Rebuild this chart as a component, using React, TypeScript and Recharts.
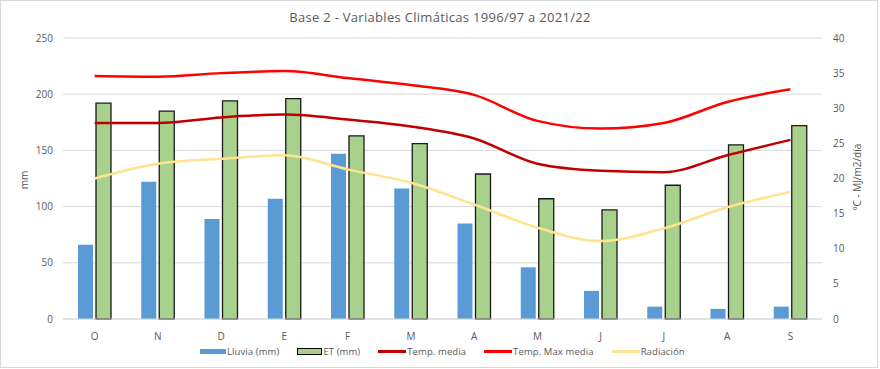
import {
  Bar,
  CartesianGrid,
  ComposedChart,
  Line,
  XAxis,
  YAxis,
} from "recharts";

const months = ["O", "N", "D", "E", "F", "M", "A", "M", "J", "J", "A", "S"];
const lluvia = [66, 122, 89, 107, 147, 116, 85, 46, 25, 11, 9, 11];
const et = [192, 185, 194, 196, 163, 156, 129, 107, 97, 119, 155, 172];
const tempMedia = [27.9, 27.9, 28.7, 29.1, 28.4, 27.4, 25.7, 22.1, 21.1, 20.9, 23.3, 25.5];
const tempMax = [34.6, 34.5, 35.0, 35.3, 34.3, 33.3, 31.9, 28.2, 27.1, 27.9, 30.9, 32.7];
const radiacion = [20.0, 22.1, 22.8, 23.3, 21.3, 19.4, 16.3, 13.0, 11.1, 12.9, 15.9, 18.1];

const leftTicks = [0, 50, 100, 150, 200, 250];
const rightTicks = [0, 5, 10, 15, 20, 25, 30, 35, 40];

const data = months.map((m, i) => ({
  name: m,
  lluvia: lluvia[i],
  et: et[i],
  tempMedia: tempMedia[i],
  tempMax: tempMax[i],
  radiacion: radiacion[i],
}));

const gray = "#595959";
const font = "'Open Sans', sans-serif";

function LegendItem({ kind, color, label }: { kind: "bar" | "barOutline" | "line"; color: string; label: string }) {
  let swatch;
  if (kind === "bar") {
    swatch = <div style={{ width: 26, height: 5, background: color }} />;
  } else if (kind === "barOutline") {
    swatch = <div style={{ width: 23, height: 5, background: color, border: "1px solid #000" }} />;
  } else {
    swatch = <div style={{ width: 28, height: 2.5, background: color }} />;
  }
  return (
    <div style={{ display: "flex", alignItems: "center", marginRight: 18 }}>
      {swatch}
      <span style={{ marginLeft: 1 }}>{label}</span>
    </div>
  );
}

export default function App() {
  return (
    <div
      style={{
        position: "absolute",
        left: 0,
        top: 0,
        width: 880,
        height: 369,
        fontFamily: font,
        background: "#fff",
      }}
    >
      <div
        style={{
          position: "absolute",
          left: 0,
          top: 0,
          width: 876,
          height: 366,
          border: "1px solid #d9d9d9",
        }}
      />
      <div
        style={{
          position: "absolute",
          top: 8,
          left: 0,
          width: 880,
          textAlign: "center",
          fontSize: 13,
          color: gray,
          letterSpacing: 0.3,
        }}
      >
        Base 2 - Variables Climáticas 1996/97 a 2021/22
      </div>
      <ComposedChart
        width={880}
        height={369}
        data={data}
        margin={{ top: 38, right: 0, bottom: 20, left: 0 }}
        barSize={15}
        barGap={3}
        style={{ position: "absolute", left: 0, top: 0 }}
      >
        <CartesianGrid yAxisId="left" vertical={false} stroke="#d9d9d9" />
        <XAxis
          dataKey="name"
          height={30}
          tickLine={false}
          axisLine={{ stroke: "#d9d9d9" }}
          tick={{ fill: gray, fontSize: 10 }}
          tickMargin={8}
        />
        <YAxis
          yAxisId="left"
          width={63}
          domain={[0, 250]}
          ticks={leftTicks}
          axisLine={false}
          tickLine={false}
          tick={{ fill: gray, fontSize: 10 }}
          tickMargin={4}
        />
        <YAxis
          yAxisId="right"
          orientation="right"
          width={58}
          domain={[0, 40]}
          ticks={rightTicks}
          axisLine={false}
          tickLine={false}
          tick={{ fill: gray, fontSize: 10 }}
          tickMargin={5}
        />
        <Bar yAxisId="left" dataKey="lluvia" name="Lluvia (mm)" fill="#5b9bd5" isAnimationActive={false} />
        <Bar
          yAxisId="left"
          dataKey="et"
          name="ET (mm)"
          fill="#a9d18e"
          stroke="#1a1a1a"
          strokeWidth={1.3}
          isAnimationActive={false}
        />
        <Line
          yAxisId="right"
          type="monotone"
          dataKey="tempMedia"
          name="Temp. media"
          stroke="#c00000"
          strokeWidth={2.5}
          dot={false}
          isAnimationActive={false}
        />
        <Line
          yAxisId="right"
          type="monotone"
          dataKey="tempMax"
          name="Temp. Max media"
          stroke="#ff0000"
          strokeWidth={2.5}
          dot={false}
          isAnimationActive={false}
        />
        <Line
          yAxisId="right"
          type="monotone"
          dataKey="radiacion"
          name="Radiación"
          stroke="#ffe38f"
          strokeWidth={2.5}
          dot={false}
          isAnimationActive={false}
        />
      </ComposedChart>
      <div
        style={{
          position: "absolute",
          left: 24,
          top: 180,
          fontSize: 10,
          color: gray,
          transform: "translate(-50%, -50%) rotate(-90deg)",
          whiteSpace: "nowrap",
        }}
      >
        mm
      </div>
      <div
        style={{
          position: "absolute",
          left: 857,
          top: 177,
          fontSize: 10,
          color: gray,
          transform: "translate(-50%, -50%) rotate(-90deg)",
          whiteSpace: "nowrap",
        }}
      >
        ºC - MJ/m2/día
      </div>
      <div
        style={{
          position: "absolute",
          left: 200,
          top: 345,
          display: "flex",
          fontSize: 9.5,
          letterSpacing: 0.1,
          color: gray,
          whiteSpace: "nowrap",
        }}
      >
        <LegendItem kind="bar" color="#5b9bd5" label="Lluvia (mm)" />
        <LegendItem kind="barOutline" color="#a9d18e" label="ET (mm)" />
        <LegendItem kind="line" color="#c00000" label="Temp. media" />
        <LegendItem kind="line" color="#ff0000" label="Temp. Max media" />
        <LegendItem kind="line" color="#ffe38f" label="Radiación" />
      </div>
    </div>
  );
}
